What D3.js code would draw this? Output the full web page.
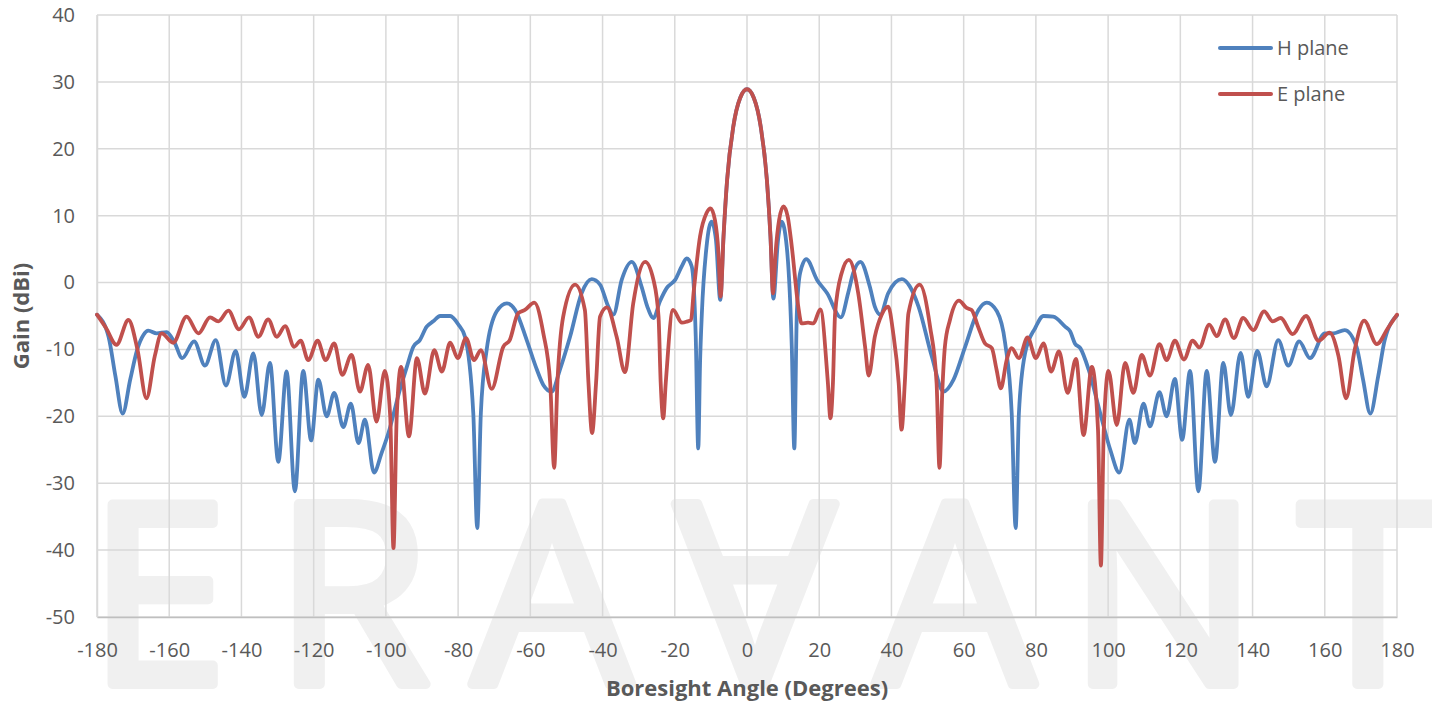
<!DOCTYPE html>
<html>
<head>
<meta charset="utf-8">
<script src="https://cdn.jsdelivr.net/npm/d3@7"></script>
<style>
  body { margin: 0; background: #fff; }
  svg { display: block; font-family: "Open Sans", sans-serif; }
</style>
</head>
<body>
<div class="chart"></div>
<script>
// H plane (blue) - angle / gain pairs
var hAngle = [-180,-176.8,-174.9,-172.9,-170.8,-168.9,-167.1,-165.8,-163.5,-160.7,-158.5,-156.4,-153.1,-150.1,-147.1,-144.3,-141.6,-139.2,-136.7,-134.4,-132.1,-129.8,-127.5,-125.2,-122.9,-120.7,-118.7,-116.4,-114.3,-111.8,-109.7,-107.6,-105.8,-103.3,-101.2,-99.3,-96.1,-94.2,-92.4,-90.6,-88.7,-86.9,-85.0,-82.2,-79.9,-78.1,-75.8,-74.7,-73.7,-72.1,-69.3,-66.5,-64.2,-61.0,-58.2,-56.4,-54.1,-51.8,-49.0,-45.8,-43.0,-40.7,-38.4,-37.0,-34.7,-31.9,-29.2,-27.6,-25.9,-24.1,-22.2,-19.9,-18.1,-16.7,-15.3,-14.2,-13.5,-13.0,-12.5,-11.2,-9.8,-8.6,-7.4,-6.5,-5.5,-3.8,-1.9,0,
  1.9,3.8,5.5,6.5,7.3,8.6,9.6,11.0,12.4,13.1,13.8,14.7,16.4,19.4,22.2,26.0,28.0,29.4,31.4,34.0,35.4,36.9,39.1,42.9,45.0,47.5,51.2,54.4,57.2,60.4,64.1,66.4,69.2,71.5,73.3,74.4,75.3,77.0,79.8,82.1,84.8,88.1,89.5,90.8,92.3,94.6,97.8,100.6,103.1,105.9,107.4,109.8,111.6,114.2,116.2,118.5,120.5,122.7,125.0,127.3,129.6,131.9,134.0,136.7,138.8,141.3,143.9,147.1,149.9,152.9,155.9,160.0,162.3,165.5,168.8,170.6,172.6,174.8,176.6,180];
var hGain = [-4.8,-8.1,-14.0,-19.6,-14.5,-10.1,-7.8,-7.2,-7.6,-7.4,-9.0,-11.3,-8.8,-12.4,-8.6,-15.4,-10.2,-17.1,-10.6,-19.8,-12.0,-26.8,-13.3,-31.2,-13.2,-23.6,-14.5,-20.0,-16.5,-21.6,-18.1,-24.0,-20.5,-28.4,-25.5,-22.5,-16.0,-12.6,-9.6,-8.6,-6.6,-5.8,-5.0,-5.0,-6.3,-8.1,-19.5,-36.7,-19.5,-10.1,-4.3,-3.1,-4.1,-8.6,-13.0,-15.3,-16.3,-13.0,-8.1,-1.6,0.5,-0.3,-3.6,-4.8,0.4,3.1,-0.6,-3.6,-5.3,-2.8,-0.8,0.4,2.4,3.6,2.4,-8.0,-24.8,-12.0,-4.6,5.4,9.1,6.4,-2.6,6.9,15.4,23.3,27.6,28.9,
  27.6,23.3,15.4,6.9,-2.4,6.4,9.1,5.4,-9.6,-24.8,-4.6,1.4,3.5,0.4,-1.6,-5.2,-1.6,1.4,3.1,-0.6,-3.6,-4.8,-1.6,0.5,-0.5,-3.6,-11.1,-16.3,-14.5,-9.6,-4.1,-3.0,-4.3,-9.1,-19.5,-36.7,-19.5,-10.6,-6.8,-5.0,-5.1,-6.6,-7.3,-9.1,-9.8,-13.0,-19.5,-25.0,-28.4,-20.5,-24.0,-18.1,-21.5,-16.4,-20.0,-14.4,-23.5,-13.2,-31.2,-13.2,-26.8,-12.0,-19.8,-10.5,-17.1,-10.2,-15.5,-8.6,-12.4,-8.8,-11.3,-7.6,-7.6,-7.1,-9.6,-14.5,-19.6,-14.0,-8.6,-4.9];

// E plane (red)
var eAngle = [-180,-177.5,-174.6,-171.3,-168.8,-166.3,-164.0,-162.1,-158.9,-155.2,-151.9,-148.7,-146.4,-143.6,-140.7,-137.9,-135.3,-132.6,-130.2,-127.9,-125.4,-123.6,-121.5,-118.9,-116.7,-114.3,-112.1,-109.5,-107.2,-104.9,-102.6,-100.3,-98.8,-97.9,-97.0,-95.8,-93.6,-91.4,-89.2,-86.6,-84.5,-82.2,-80.1,-77.8,-75.6,-73.7,-70.7,-67.5,-65.7,-63.4,-61.5,-58.9,-56.4,-54.5,-53.4,-52.5,-50.9,-47.6,-44.9,-43.9,-42.9,-41.8,-40.7,-38.8,-36.1,-33.8,-31.5,-28.2,-25.9,-24.5,-23.9,-23.2,-22.5,-20.5,-18.0,-16.5,-15.5,-14.8,-13.0,-11.2,-10.1,-8.9,-7.9,-7.3,-6.5,-5.5,-3.8,-1.9,0,
  1.9,3.8,5.5,6.5,7.2,7.9,8.9,10.1,11.3,12.4,14.2,15.1,16.9,18.4,20.3,22.4,23.1,23.8,24.4,26.2,28.2,30.8,32.7,33.7,35.4,37.3,39.1,40.5,42.0,42.8,43.7,44.7,47.8,50.7,52.5,53.3,54.1,54.8,56.2,58.7,60.8,62.2,64.0,65.9,67.8,69.1,70.3,71.9,73.3,75.3,77.7,80.0,82.1,84.2,86.4,88.8,91.1,93.2,95.5,97.2,98.0,98.8,100.1,102.4,104.7,107.0,109.3,111.6,114.2,116.2,118.5,121.0,123.4,125.3,128.0,130.1,132.4,134.8,137.4,140.2,143.2,145.6,147.8,151.1,154.8,158.3,161.3,163.8,165.9,168.3,170.9,174.4,177.5,180];
var eGain = [-4.8,-6.8,-9.3,-5.6,-10.0,-17.3,-11.0,-7.6,-9.0,-5.1,-7.6,-5.2,-5.8,-4.2,-7.0,-5.2,-8.1,-5.5,-8.1,-6.5,-9.6,-8.7,-11.6,-8.7,-11.6,-9.1,-13.8,-10.8,-16.3,-12.3,-20.8,-13.2,-20.0,-39.7,-20.0,-12.6,-23.0,-11.3,-16.6,-10.1,-13.3,-9.0,-11.3,-8.3,-11.6,-10.1,-15.9,-9.6,-8.6,-4.6,-4.1,-3.0,-7.6,-15.0,-27.7,-15.0,-5.1,-0.3,-4.1,-15.0,-22.5,-15.0,-5.1,-3.7,-8.1,-13.4,-3.1,3.1,0.4,-5.1,-15.0,-20.3,-15.0,-4.1,-6.0,-5.8,-5.6,-1.6,6.9,10.4,11.1,9.4,4.4,-2.1,6.9,15.4,23.3,27.6,28.9,
  27.6,23.3,15.4,6.9,-1.6,4.4,9.4,11.4,9.8,5.4,-3.6,-6.1,-6.0,-6.1,-4.0,-15.0,-20.3,-15.0,-4.6,1.4,3.4,-1.6,-9.6,-13.9,-8.1,-4.8,-3.6,-7.6,-15.0,-22.0,-15.0,-4.6,-0.3,-6.6,-15.0,-27.7,-16.0,-9.6,-5.6,-2.7,-3.8,-4.1,-6.6,-9.1,-9.8,-13.0,-15.8,-11.6,-9.8,-11.3,-8.2,-11.3,-9.1,-13.3,-10.3,-16.5,-11.4,-22.8,-12.6,-22.0,-42.3,-22.0,-13.2,-21.3,-12.0,-16.5,-10.8,-13.9,-9.2,-11.6,-8.7,-11.5,-8.7,-9.7,-6.3,-8.0,-5.5,-8.3,-5.3,-7.1,-4.3,-5.8,-5.3,-7.7,-5.0,-8.7,-7.5,-11.0,-17.3,-10.0,-5.7,-9.2,-6.8,-4.8];

var xTicks = [-180,-160,-140,-120,-100,-80,-60,-40,-20,0,20,40,60,80,100,120,140,160,180];
var yTicks = [40,30,20,10,0,-10,-20,-30,-40,-50];
var seriesNames = ["H plane", "E plane"];
var seriesColors = ["#4f81bd", "#c0504d"];
var watermark = ["E", "R", "A", "A", "A", "N", "T"];

var margin = { top: 15, right: 35, bottom: 87, left: 97 };
var width = 1432 - margin.left - margin.right;
var height = 704 - margin.top - margin.bottom;

var root = d3.select('.chart')
  .append('svg')
    .attr('width', 1432)
    .attr('height', 704);

// faint logo behind the plot, 4th letter is an upside-down A
var wmX = [158, 352, 552, 755, 955, 1163, 1368];
root.append('g')
  .selectAll('text')
  .data(watermark)
  .join('text')
    .attr('x', (d, i) => wmX[i])
    .attr('y', 684)
    .attr('text-anchor', 'middle')
    .attr('font-size', 252)
    .attr('fill', '#f0f0f0')
    .attr('stroke', '#f0f0f0')
    .attr('stroke-width', 10)
    .attr('stroke-linejoin', 'round')
    .attr('transform', (d, i) => i === 3 ? 'rotate(180 755 594)' : null)
    .text(d => d);

var svg = root.append('g')
  .attr('transform', `translate(${margin.left}, ${margin.top})`);

var xScale = d3.scaleLinear().domain([-180, 180]).range([0, width]);
var yScale = d3.scaleLinear().domain([-50, 40]).range([height, 0]);

// grid
svg.append('g')
  .selectAll('line')
  .data(yTicks)
  .join('line')
    .attr('x1', 0).attr('x2', width)
    .attr('y1', d => yScale(d)).attr('y2', d => yScale(d))
    .attr('stroke', '#d9d9d9').attr('stroke-width', 1.5);

svg.append('g')
  .selectAll('line')
  .data(xTicks)
  .join('line')
    .attr('x1', d => xScale(d)).attr('x2', d => xScale(d))
    .attr('y1', 0).attr('y2', height)
    .attr('stroke', '#d9d9d9').attr('stroke-width', 1.5);

var xAxis = d3.axisBottom(xScale).tickValues(xTicks).tickSize(0).tickPadding(26).tickFormat(d => String(d));
var yAxis = d3.axisLeft(yScale).tickValues(yTicks).tickSize(0).tickPadding(22).tickFormat(d => String(d));

var gx = svg.append('g')
  .attr('transform', `translate(0, ${height})`)
  .call(xAxis);
gx.select('.domain').attr('stroke', '#bfbfbf').attr('stroke-width', 1.5);

var gy = svg.append('g').call(yAxis);
gy.select('.domain').attr('stroke', '#d9d9d9').attr('stroke-width', 1.5);

svg.selectAll('.tick text')
  .attr('font-family', '"Open Sans", sans-serif')
  .attr('font-size', 20)
  .attr('fill', '#595959');

var line = d3.line()
  .x(d => xScale(d[0]))
  .y(d => yScale(d[1]))
  .curve(d3.curveMonotoneX);

var series = [
  d3.zip(hAngle, hGain),
  d3.zip(eAngle, eGain)
];

series.forEach(function(pts, i) {
  svg.append('path')
    .datum(pts)
    .attr('d', line)
    .attr('fill', 'none')
    .attr('stroke', seriesColors[i])
    .attr('stroke-width', 3.8)
    .attr('stroke-linejoin', 'round')
    .attr('stroke-linecap', 'round');
});

// legend
var legend = root.append('g');
seriesNames.forEach(function(name, i) {
  var ly = 48 + i * 46;
  legend.append('line')
    .attr('x1', 1220).attr('x2', 1271)
    .attr('y1', ly).attr('y2', ly)
    .attr('stroke', seriesColors[i])
    .attr('stroke-width', 4)
    .attr('stroke-linecap', 'round');
  legend.append('text')
    .attr('x', 1277)
    .attr('y', ly + 7)
    .attr('font-size', 20)
    .attr('fill', '#595959')
    .text(name);
});

root.append('text')
  .attr('x', margin.left + width / 2)
  .attr('y', 696)
  .attr('text-anchor', 'middle')
  .attr('font-size', 22)
  .attr('font-weight', 'bold')
  .attr('fill', '#595959')
  .text('Boresight Angle (Degrees)');

root.append('text')
  .attr('transform', 'translate(29, 316) rotate(-90)')
  .attr('text-anchor', 'middle')
  .attr('font-size', 22)
  .attr('font-weight', 'bold')
  .attr('fill', '#595959')
  .text('Gain (dBi)');
</script>
</body>
</html>
